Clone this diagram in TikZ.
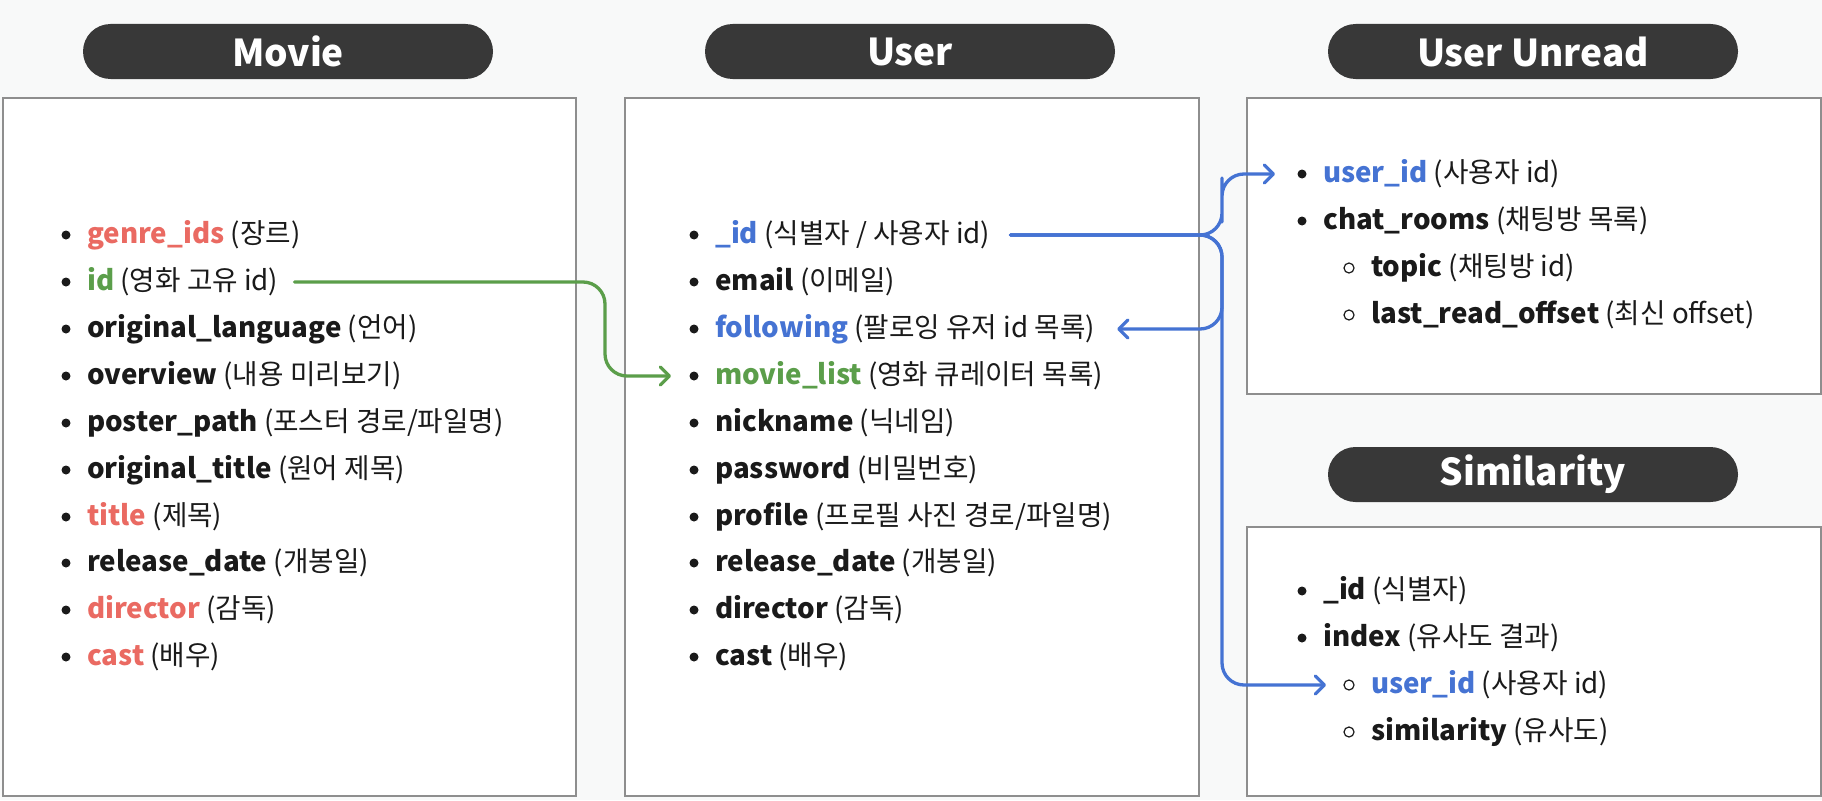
\documentclass[tikz,border=0pt]{standalone}
\usepackage{fontspec}
\setmainfont{Noto Sans CJK KR}
\usetikzlibrary{arrows.meta}
\definecolor{bgc}{HTML}{F8F9F9}
\definecolor{hdr}{HTML}{383838}
\definecolor{redc}{HTML}{EA6A62}
\definecolor{grnc}{HTML}{5B9E4A}
\definecolor{bluc}{HTML}{4573D3}
\definecolor{boxc}{HTML}{8E8E8E}
\definecolor{txtc}{HTML}{1A1A1A}
\newcommand\itm[6]{%
  \node[rowtext] (#1) at (#2,#3) {\textcolor{#4}{\bfseries #5} #6};
  \fill[txtc] ([xshift=-21pt]#1.west) circle (4.5);}
\newcommand\subitm[6]{%
  \node[rowtext] (#1) at (#2,#3) {\textcolor{#4}{\bfseries #5} #6};
  \draw[txtc, line width=1.2pt] ([xshift=-22pt]#1.west) circle (5);}
\begin{document}
\begin{tikzpicture}[x=1pt,y=-1pt,
  rowtext/.style={anchor=west, inner sep=0pt, text height=24pt, text depth=8pt,
    font=\fontsize{27.7}{32}\selectfont, text=txtc},
  header/.style={fill=hdr, rounded corners=27.5pt, minimum width=410pt, minimum height=55pt,
    inner sep=0pt, text=white, font=\fontsize{37}{40}\selectfont\bfseries},
  tablebox/.style={draw=boxc, fill=white, line width=1.5pt},
  conn/.style={line width=3.3pt, rounded corners=22pt, line cap=round, line join=round,
    -{Straight Barb[length=9pt,width=18pt,line cap=round,line join=round]}},
  bluelink/.style={conn, draw=bluc},
  greenlink/.style={conn, draw=grnc}]
\fill[bgc] (0,0) rectangle (1822,800);
\useasboundingbox (0,0) rectangle (1822,800);
% boxes
\node[tablebox, anchor=north west, minimum width=573pt, minimum height=698pt] (movieBox) at (2,97) {};
\node[tablebox, anchor=north west, minimum width=574pt, minimum height=698pt] (userBox) at (624,97) {};
\node[tablebox, anchor=north west, minimum width=574pt, minimum height=296pt] (unreadBox) at (1246,97) {};
\node[tablebox, anchor=north west, minimum width=574pt, minimum height=269pt] (simBox) at (1246,526) {};
% headers
\node[header] (movieHdr) at (288,51.5) {Movie};
\node[header] (userHdr) at (910,51.5) {User};
\node[header] (unreadHdr) at (1533,51.5) {User Unread};
\node[header] (simHdr) at (1533,474.5) {Similarity};
% Movie rows
\itm{m1}{87}{235}{redc}{genre\_ids}{(장르)}
\itm{m2}{87}{282}{grnc}{id}{(영화 고유 id)}
\itm{m3}{87}{329}{txtc}{original\_language}{(언어)}
\itm{m4}{87}{376}{txtc}{overview}{(내용 미리보기)}
\itm{m5}{87}{423}{txtc}{poster\_path}{(포스터 경로/파일명)}
\itm{m6}{87}{470}{txtc}{original\_title}{(원어 제목)}
\itm{m7}{87}{517}{redc}{title}{(제목)}
\itm{m8}{87}{563}{txtc}{release\_date}{(개봉일)}
\itm{m9}{87}{610}{redc}{director}{(감독)}
\itm{m10}{87}{657}{redc}{cast}{(배우)}
% User rows
\itm{u1}{715}{235}{bluc}{\_id}{(식별자 / 사용자 id)}
\itm{u2}{715}{282}{txtc}{email}{(이메일)}
\itm{u3}{715}{329}{bluc}{following}{(팔로잉 유저 id 목록)}
\itm{u4}{715}{376}{grnc}{movie\_list}{(영화 큐레이터 목록)}
\itm{u5}{715}{423}{txtc}{nickname}{(닉네임)}
\itm{u6}{715}{470}{txtc}{password}{(비밀번호)}
\itm{u7}{715}{517}{txtc}{profile}{(프로필 사진 경로/파일명)}
\itm{u8}{715}{563}{txtc}{release\_date}{(개봉일)}
\itm{u9}{715}{610}{txtc}{director}{(감독)}
\itm{u10}{715}{657}{txtc}{cast}{(배우)}
% User Unread rows
\itm{r1}{1323}{174}{bluc}{user\_id}{(사용자 id)}
\itm{r2}{1323}{221}{txtc}{chat\_rooms}{(채팅방 목록)}
\subitm{r3}{1371}{268}{txtc}{topic}{(채팅방 id)}
\subitm{r4}{1371}{315}{txtc}{last\_read\_offset}{(최신 offset)}
% Similarity rows
\itm{s1}{1323}{591}{txtc}{\_id}{(식별자)}
\itm{s2}{1323}{638}{txtc}{index}{(유사도 결과)}
\subitm{s3}{1371}{685}{bluc}{user\_id}{(사용자 id)}
\subitm{s4}{1371}{732}{txtc}{similarity}{(유사도)}
% bend helpers
\coordinate (gspine) at (605,330);
\coordinate (bspineA) at (1222,200);
\coordinate (bspineB) at (1222,280);
\coordinate (bspineC) at (1222,500);
% connectors
\draw[greenlink] ([xshift=16pt]m2.east) -| (gspine) |- ([xshift=-44pt]u4.west);
\draw[bluelink] ([xshift=20pt]u1.east) -| (bspineA) |- ([xshift=-48pt]r1.west);
\draw[bluelink] ([xshift=20pt]u1.east) -| (bspineB) |- ([xshift=22pt]u3.east);
\draw[bluelink] ([xshift=20pt]u1.east) -| (bspineC) |- ([xshift=-45pt]s3.west);
\end{tikzpicture}
\end{document}
